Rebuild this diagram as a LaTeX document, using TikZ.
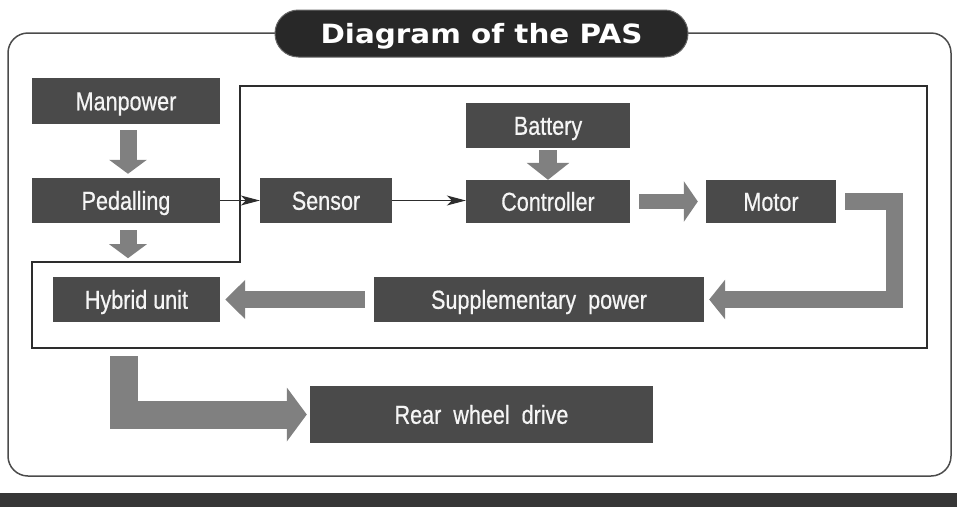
\documentclass[tikz,border=0pt]{standalone}
\usepackage{graphicx}
\usepackage{fontspec}
\setmainfont{Liberation Sans}
\newfontfamily\lblfont{Liberation Sans}[FakeBold=0.7]
\newfontfamily\titlefont{DejaVu Sans}
\usetikzlibrary{arrows.meta,calc}
\definecolor{boxgray}{RGB}{74,74,74}
\definecolor{arrowgray}{RGB}{128,128,128}
\definecolor{titlegray}{RGB}{40,40,40}
\definecolor{framegray}{RGB}{75,75,75}
\definecolor{innergray}{RGB}{45,45,45}
\definecolor{bargray}{RGB}{55,55,55}
\definecolor{textwhite}{RGB}{245,245,245}
\newcommand{\lbl}[1]{\scalebox{0.83}[1]{#1}}
\begin{document}
\begin{tikzpicture}[x=1pt,y=-1pt,
  box/.style={fill=boxgray, text=textwhite, inner sep=0pt,
    font=\lblfont\fontsize{26}{26}\selectfont, text height=18.5pt, text depth=0pt},
  garrow/.style={draw=arrowgray, line cap=butt, line join=miter},
  thinarrow/.style={draw=innergray, line width=1pt,
    -{Stealth[length=19pt,width=10pt,inset=5pt]}}]
\useasboundingbox (0,0) rectangle (957,507);
% outer frame
\draw[framegray, line width=1.5pt, rounded corners=20pt] (8,33) rectangle (951,476);
% bottom bar
\fill[bargray] (0,493) rectangle (957,507);
% title
\node[fill=titlegray, draw=black!60, line width=1pt, rounded corners=23.4pt, minimum width=413pt, minimum height=47pt,
  text=white, inner sep=0pt, text height=19pt, text depth=0pt] (title) at (481.5,33.5)
  {\titlefont\bfseries\fontsize{26.5}{26.5}\selectfont\scalebox{1.11}[1]{Diagram of the PAS}};
% inner frame
\draw[innergray, line width=1.2pt] (240,86) -- (927,86) -- (927,348) -- (32,348)
  -- (32,262) -- (240,262) -- cycle;
% boxes
\node[box, minimum width=188pt, minimum height=46pt] (man) at (126,101) {\lbl{Manpower}};
\node[box, minimum width=188pt, minimum height=45pt] (ped) at (126,200.5) {\lbl{Pedalling}};
\node[box, minimum width=132pt, minimum height=45pt] (sen) at (326,200.5) {\lbl{Sensor}};
\node[box, minimum width=164pt, minimum height=45pt] (bat) at (548,125.5) {\lbl{Battery}};
\node[box, minimum width=164pt, minimum height=43pt] (ctl) at (548,201.5) {\lbl{Controller}};
\node[box, minimum width=130pt, minimum height=43pt] (mot) at (771,201.5) {\lbl{Motor}};
\node[box, minimum width=167pt, minimum height=45pt] (hyb) at (136.5,299.5) {\lbl{Hybrid unit}};
\node[box, minimum width=330pt, minimum height=45pt] (supp) at (539,299.5) {\lbl{Supplementary\ \ power}};
\node[box, minimum width=343pt, minimum height=57pt] (rear) at (481.5,414.5) {\lbl{Rear\ \ wheel\ \ drive}};
% block arrows
\draw[garrow, line width=17pt, -{Triangle[width=37pt,length=14pt]}]
  ([xshift=2pt,yshift=-6pt]man.south) -- ([xshift=2pt,yshift=4pt]ped.north);
\draw[garrow, line width=17pt, -{Triangle[width=37pt,length=14pt]}]
  ([xshift=2pt,yshift=-7pt]ped.south) -- ([xshift=2pt,yshift=-35pt]ped.south);
\draw[garrow, line width=18pt, -{Triangle[width=42pt,length=17pt]}]
  ([yshift=-2pt]bat.south) -- (ctl.north);
\draw[garrow, line width=15pt, -{Triangle[width=40pt,length=14pt]}]
  ([xshift=9pt]ctl.east) -- ([xshift=-8pt]mot.west);
\draw[garrow, line width=17pt, -{Triangle[width=39pt,length=16pt]}]
  ([xshift=9pt]mot.east) -| ($(supp.east)+(190,0)$) -- ([xshift=5pt]supp.east);
\draw[garrow, line width=17pt, -{Triangle[width=38pt,length=20pt]}]
  ([xshift=-9pt]supp.west) -- ([xshift=5pt]hyb.east);
\draw[garrow, line width=28pt, -{Triangle[width=53pt,length=20pt]}]
  ([xshift=-12.5pt,yshift=-34pt]hyb.south) |- ([xshift=-3pt]rear.west);
% thin arrows
\draw[thinarrow] (ped.east) -- (sen.west);
\draw[thinarrow] (sen.east) -- (sen.east -| ctl.west);
\end{tikzpicture}
\end{document}
